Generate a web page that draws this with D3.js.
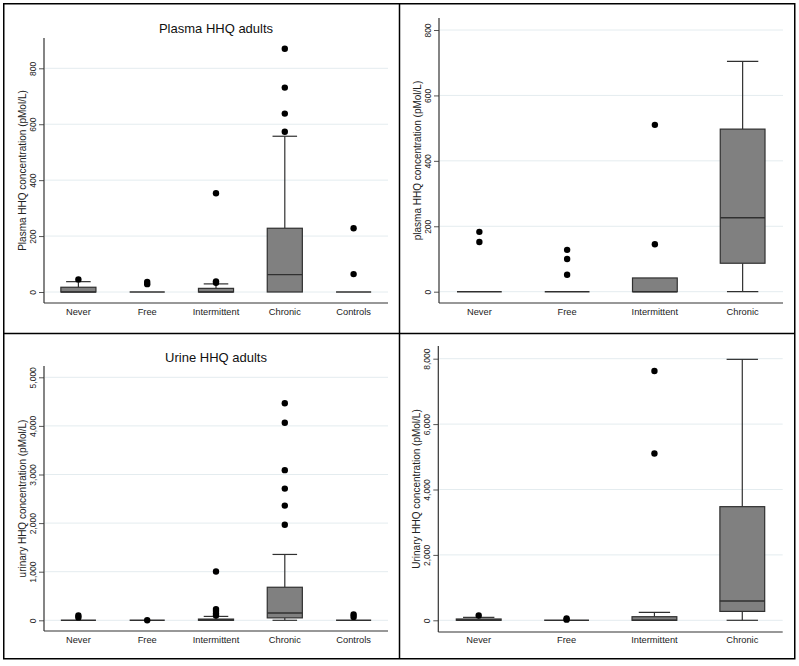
<!DOCTYPE html>
<html>
<head>
<meta charset="utf-8">
<script src="https://cdn.jsdelivr.net/npm/d3@7"></script>
<style>
  html, body { margin: 0; padding: 0; background: #fff; }
  svg { display: block; font-family: "Liberation Sans", Arial, Helvetica, sans-serif; }
</style>
</head>
<body>
<svg id="chart" width="799" height="666"></svg>
<script>
// ---------- DATA ----------
const categories5 = ["Never", "Free", "Intermittent", "Chronic", "Controls"];
const categories4 = ["Never", "Free", "Intermittent", "Chronic"];

// Panel A: Plasma HHQ adults (pMol/L)
const plasmaAdultQ1       = [0, 0, 0, 0, 0];
const plasmaAdultMedian   = [0, 0, 0, 62, 0];
const plasmaAdultQ3       = [17, 0, 13, 228, 0];
const plasmaAdultLow      = [0, 0, 0, 0, 0];
const plasmaAdultHigh     = [37, 0, 29, 557, 0];
const plasmaAdultOutliers = [[45], [28, 36], [33, 38, 353], [573, 638, 731, 870], [64, 228]];
const plasmaAdultTicks    = [0, 200, 400, 600, 800];

// Panel B: plasma HHQ (pMol/L)
const plasmaQ1       = [0, 0, 0, 87];
const plasmaMedian   = [0, 0, 0, 226];
const plasmaQ3       = [0, 0, 42, 497];
const plasmaLow      = [0, 0, 0, 0];
const plasmaHigh     = [0, 0, 42, 704];
const plasmaOutliers = [[152, 183], [52, 100, 128], [145, 510], []];
const plasmaTicks    = [0, 200, 400, 600, 800];

// Panel C: Urine HHQ adults (pMol/L)
const urineAdultQ1       = [0, 0, 0, 50, 0];
const urineAdultMedian   = [0, 0, 0, 150, 0];
const urineAdultQ3       = [0, 0, 25, 680, 0];
const urineAdultLow      = [0, 0, 0, 0, 0];
const urineAdultHigh     = [0, 0, 80, 1355, 0];
const urineAdultOutliers = [[60, 100], [0], [100, 140, 190, 230, 1005], [1965, 2360, 2710, 3090, 4065, 4465], [70, 120]];
const urineAdultTicks    = [0, 1000, 2000, 3000, 4000, 5000];

// Panel D: Urinary HHQ (pMol/L)
const urineQ1       = [0, 0, 0, 272];
const urineMedian   = [0, 0, 0, 590];
const urineQ3       = [40, 0, 110, 3475];
const urineLow      = [0, 0, 0, 0];
const urineHigh     = [90, 0, 245, 7980];
const urineOutliers = [[150], [20, 60], [5100, 7625], []];
const urineTicks    = [0, 2000, 4000, 6000, 8000];

// ---------- LAYOUT ----------
const svg = d3.select("#chart");
const boxFill = "#808080", boxStroke = "#303030", gridColor = "#e4ecef", axisColor = "#333";

const panels = [
  { cats: categories5, q1: plasmaAdultQ1, med: plasmaAdultMedian, q3: plasmaAdultQ3, lo: plasmaAdultLow, hi: plasmaAdultHigh, out: plasmaAdultOutliers,
    ticks: plasmaAdultTicks, fmt: d3.format("d"), domain: [0, 800],
    x0: 44, x1: 388, top: 38, bottom: 303, y0: 292, yMax: 68.3, pad: 0.5,
    title: "Plasma HHQ adults", titleY: 33, catY: 315, ylabel: "Plasma HHQ concentration (pMol/L)" },
  { cats: categories4, q1: plasmaQ1, med: plasmaMedian, q3: plasmaQ3, lo: plasmaLow, hi: plasmaHigh, out: plasmaOutliers,
    ticks: plasmaTicks, fmt: d3.format("d"), domain: [0, 800],
    x0: 439, x1: 783, top: 18, bottom: 303, y0: 291.7, yMax: 30, pad: 0.46,
    title: null, catY: 315, ylabel: "plasma HHQ concentration (pMol/L)" },
  { cats: categories5, q1: urineAdultQ1, med: urineAdultMedian, q3: urineAdultQ3, lo: urineAdultLow, hi: urineAdultHigh, out: urineAdultOutliers,
    ticks: urineAdultTicks, fmt: d3.format(","), domain: [0, 5000],
    x0: 44, x1: 388, top: 366, bottom: 631, y0: 620.3, yMax: 377.3, pad: 0.5,
    title: "Urine HHQ adults", titleY: 362, catY: 643, ylabel: "urinary HHQ concentration (pMol/L)" },
  { cats: categories4, q1: urineQ1, med: urineMedian, q3: urineQ3, lo: urineLow, hi: urineHigh, out: urineOutliers,
    ticks: urineTicks, fmt: d3.format(","), domain: [0, 8000],
    x0: 438.3, x1: 782.7, top: 346, bottom: 632, y0: 620.3, yMax: 358.7, pad: 0.46,
    title: null, catY: 643, ylabel: "Urinary HHQ concentration (pMol/L)" }
];

panels.forEach(p => {
  const g = svg.append("g");
  const y = d3.scaleLinear().domain(p.domain).range([p.y0, p.yMax]);
  const x = d3.scalePoint().domain(p.cats).range([p.x0, p.x1]).padding(p.pad);
  const bw = x.step() * 0.51;
  const cw = bw * 0.7;

  // gridlines
  g.append("g").selectAll("line").data(p.ticks).join("line")
    .attr("x1", p.x0 + 1).attr("x2", p.x1)
    .attr("y1", d => y(d)).attr("y2", d => y(d))
    .attr("stroke", gridColor).attr("stroke-width", 1);

  // y axis
  const ax = g.append("g").attr("transform", `translate(${p.x0},0)`)
    .call(d3.axisLeft(y).tickValues(p.ticks).tickFormat(p.fmt).tickSize(5).tickSizeOuter(0));
  ax.select(".domain").remove();
  ax.selectAll(".tick line").attr("stroke", "#555");
  ax.selectAll(".tick text")
    .attr("x", 0).attr("y", -8.5).attr("dy", 0)
    .attr("transform", "rotate(-90)")
    .attr("text-anchor", "middle")
    .attr("font-size", 8.5).attr("fill", "#222")
    .attr("font-family", "'Liberation Sans', Arial, sans-serif");

  // axis lines
  g.append("line").attr("x1", p.x0).attr("x2", p.x0).attr("y1", p.top).attr("y2", p.bottom)
    .attr("stroke", axisColor).attr("stroke-width", 1.2);
  g.append("line").attr("x1", p.x0).attr("x2", p.x1).attr("y1", p.bottom).attr("y2", p.bottom)
    .attr("stroke", axisColor).attr("stroke-width", 1.2);

  // category labels
  g.append("g").selectAll("text").data(p.cats).join("text")
    .attr("x", d => x(d)).attr("y", p.catY)
    .attr("text-anchor", "middle").attr("font-size", 9.3).attr("fill", "#222")
    .text(d => d);

  // y label
  g.append("text")
    .attr("transform", `translate(${p.x0 - 18.5},${(p.top + p.bottom) / 2}) rotate(-90)`)
    .attr("text-anchor", "middle").attr("font-size", 10).attr("fill", "#222")
    .text(p.ylabel);

  // title
  if (p.title) {
    g.append("text").attr("x", (p.x0 + p.x1) / 2).attr("y", p.titleY)
      .attr("text-anchor", "middle").attr("font-size", 13).attr("fill", "#111")
      .text(p.title);
  }

  // boxes
  p.cats.forEach((c, i) => {
    const cx = x(c);
    const q1 = p.q1[i], q3 = p.q3[i], med = p.med[i], lo = p.lo[i], hi = p.hi[i];
    // upper whisker
    if (hi > q3) {
      g.append("line").attr("x1", cx).attr("x2", cx).attr("y1", y(q3)).attr("y2", y(hi))
        .attr("stroke", boxStroke).attr("stroke-width", 1.2);
      g.append("line").attr("x1", cx - cw / 2).attr("x2", cx + cw / 2).attr("y1", y(hi)).attr("y2", y(hi))
        .attr("stroke", boxStroke).attr("stroke-width", 1.2);
    }
    if (lo < q1) {
      g.append("line").attr("x1", cx).attr("x2", cx).attr("y1", y(q1)).attr("y2", y(lo))
        .attr("stroke", boxStroke).attr("stroke-width", 1.2);
      g.append("line").attr("x1", cx - cw / 2).attr("x2", cx + cw / 2).attr("y1", y(lo)).attr("y2", y(lo))
        .attr("stroke", boxStroke).attr("stroke-width", 1.2);
    }
    if (q3 > q1) {
      g.append("rect").attr("x", cx - bw / 2).attr("width", bw)
        .attr("y", y(q3)).attr("height", y(q1) - y(q3))
        .attr("fill", boxFill).attr("stroke", boxStroke).attr("stroke-width", 1.2);
    }
    g.append("line").attr("x1", cx - bw / 2).attr("x2", cx + bw / 2).attr("y1", y(med)).attr("y2", y(med))
      .attr("stroke", boxStroke).attr("stroke-width", 1.4);
    // outliers
    g.append("g").selectAll("circle").data(p.out[i]).join("circle")
      .attr("cx", cx).attr("cy", d => y(d)).attr("r", 3.2).attr("fill", "#000");
  });
});

// frames
svg.append("rect").attr("x", 3.75).attr("y", 3.75).attr("width", 791).attr("height", 655)
  .attr("fill", "none").attr("stroke", "#000").attr("stroke-width", 1.5);
svg.append("line").attr("x1", 399.5).attr("x2", 399.5).attr("y1", 3.75).attr("y2", 658.75)
  .attr("stroke", "#000").attr("stroke-width", 1.5);
svg.append("line").attr("x1", 3.75).attr("x2", 794.75).attr("y1", 333.5).attr("y2", 333.5)
  .attr("stroke", "#000").attr("stroke-width", 1.5);
</script>
</body>
</html>
